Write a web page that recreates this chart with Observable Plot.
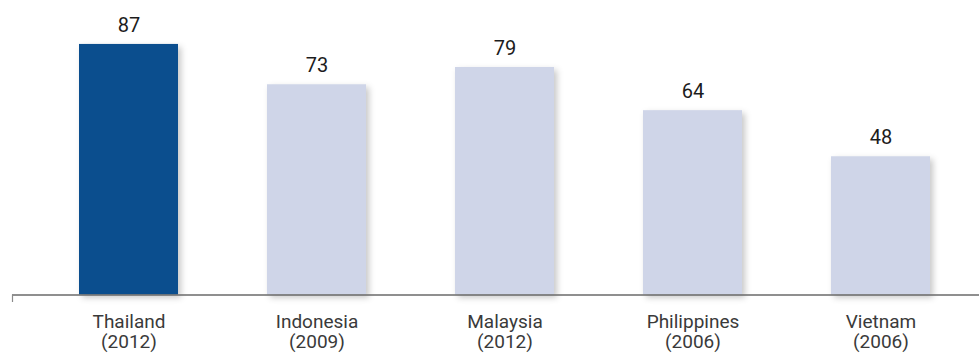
<!DOCTYPE html>
<html>
<head>
<meta charset="utf-8">
<script src="https://cdn.jsdelivr.net/npm/d3@7"></script>
<script src="https://cdn.jsdelivr.net/npm/@observablehq/plot@0.6"></script>
<style>
  html, body { margin: 0; padding: 0; background: #fff; }
  #chart svg g[aria-label="bar"] rect { filter: drop-shadow(3px 3px 3px rgba(0,0,0,0.22)); }
</style>
</head>
<body>
<div id="chart"></div>
<script>
// Countries, survey years and values
const countries = ["Thailand", "Indonesia", "Malaysia", "Philippines", "Vietnam"];
const years = ["2012", "2009", "2012", "2006", "2006"];
const values = [87, 73, 79, 64, 48];
const highlight = "Thailand";

const rows = countries.map((c, i) => ({country: c, year: years[i], value: values[i]}));
const yearOf = new Map(rows.map(d => [d.country, d.year]));

// Small downward tick at the left end of the baseline
const leftTick = (index, scales, values, dims) => {
  const y0 = scales.y(0);
  const line = document.createElementNS("http://www.w3.org/2000/svg", "line");
  line.setAttribute("x1", dims.marginLeft + 0.5);
  line.setAttribute("x2", dims.marginLeft + 0.5);
  line.setAttribute("y1", y0);
  line.setAttribute("y2", y0 + 7.5);
  line.setAttribute("stroke", "#8a8a8a");
  line.setAttribute("stroke-width", 1.2);
  return line;
};

const chart = Plot.plot({
  width: 979,
  height: 353,
  marginTop: 6.5,
  marginBottom: 58.5,
  marginLeft: 12,
  marginRight: 0,
  style: {fontFamily: "Roboto, 'Open Sans', sans-serif", fontSize: "19px", background: "#fff"},
  x: {domain: countries, paddingInner: 0.4734, paddingOuter: 0.3085, align: 0.578, axis: null},
  y: {domain: [0, 100], axis: null},
  marks: [
    Plot.barY(rows, {
      x: "country",
      y: "value",
      fill: d => d.country === highlight ? "#0b4e8e" : "#cfd5e8"
    }),
    Plot.ruleY([0], {stroke: "#6a6a6a", strokeWidth: 1.3}),
    leftTick,
    Plot.text(rows, {
      x: "country",
      y: "value",
      text: d => String(d.value),
      dy: -19,
      fontSize: 20,
      fill: "#1c1c1c"
    }),
    Plot.axisX({
      label: null,
      tickSize: 0,
      tickPadding: 19,
      color: "#3a3a3a",
      fontSize: 19,
      lineHeight: 1.05,
      tickFormat: c => `${c}\n(${yearOf.get(c)})`
    })
  ]
});

document.getElementById("chart").appendChild(chart);
</script>
</body>
</html>
